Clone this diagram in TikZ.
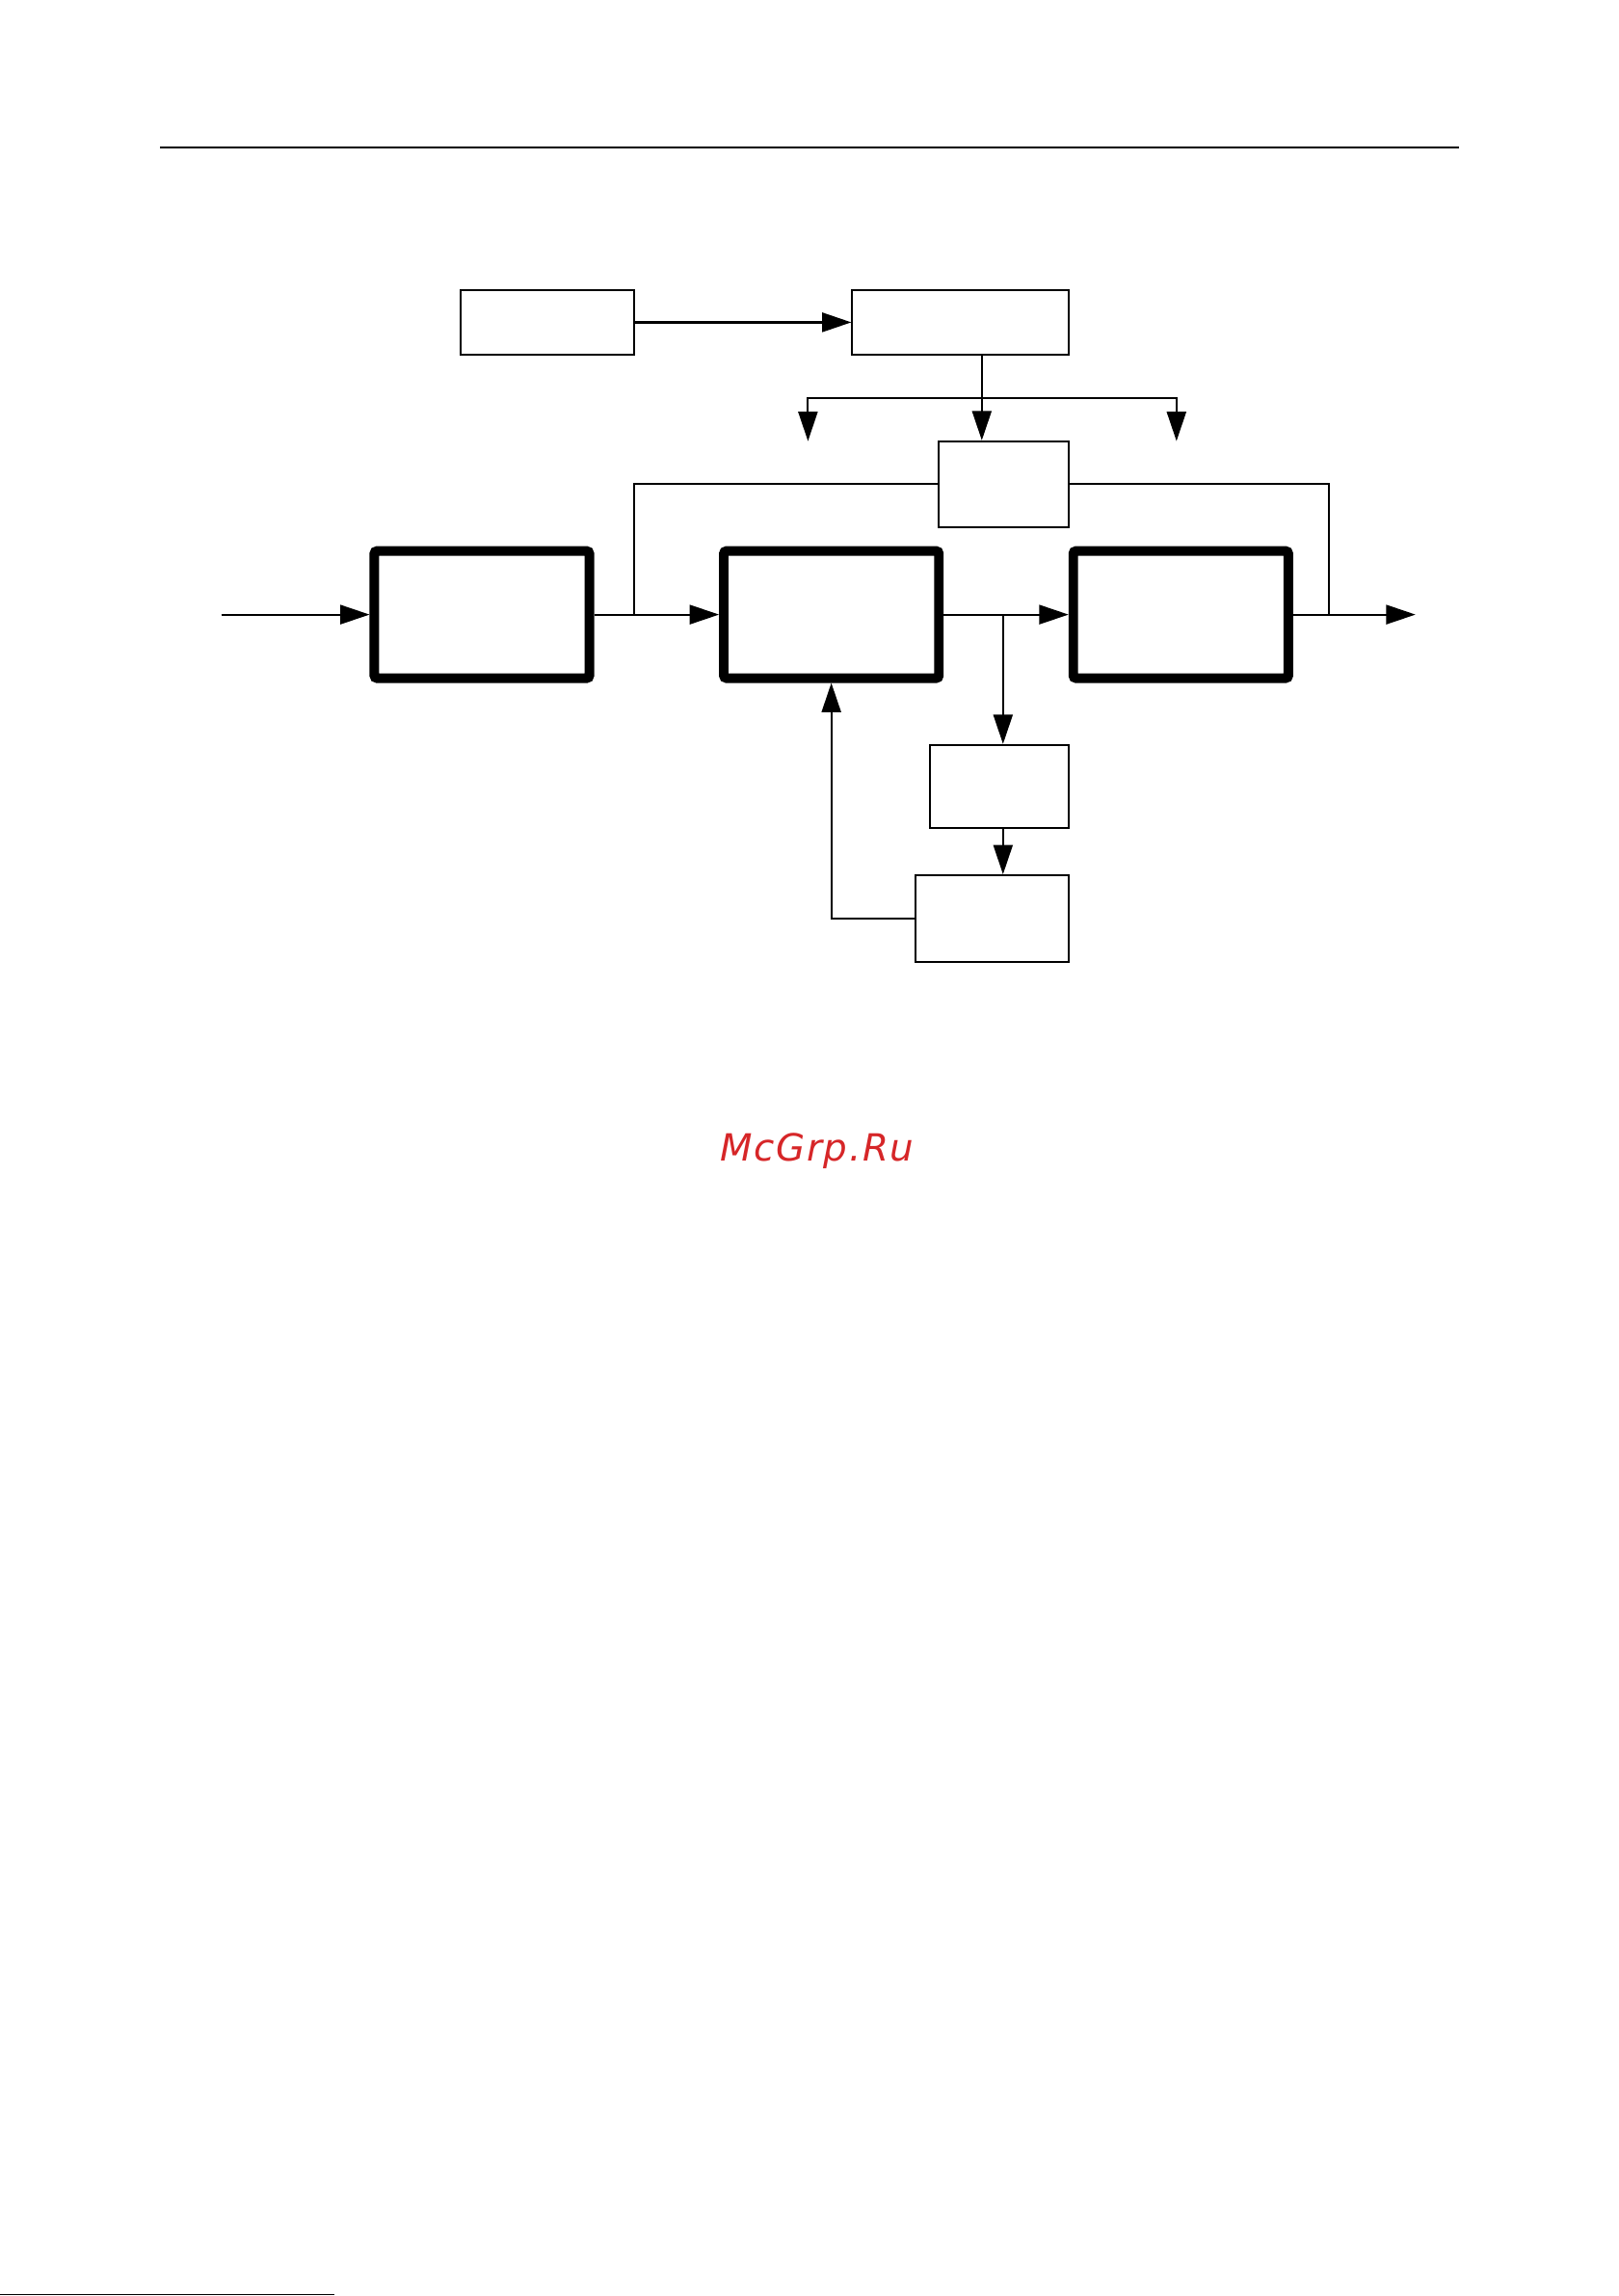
\documentclass[tikz,border=0pt]{standalone}
\usepackage{fontspec}
\usepackage{tikz}
\usetikzlibrary{arrows.meta,positioning,calc}
\newfontfamily\wmfont{DejaVu Sans}[LetterSpace=4]
\definecolor{wmred}{RGB}{214,38,40}

\begin{document}
\begin{tikzpicture}[x=1mm, y=-1mm, >={Triangle[length=3.8mm, width=2.5mm]},
    thinbox/.style={draw, line width=0.7pt, inner sep=0pt},
    thickbox/.style={draw, line width=3.5pt, rounded corners=1pt, inner sep=0pt,
      minimum width=27.9mm, minimum height=16.5mm},
    wire/.style={line width=0.7pt}]
  \useasboundingbox (0,0) rectangle (210,297.75);

  % rule at the head of the page
  \draw[line width=0.9pt] (20.75,19.1) coordinate (ruleL) -- (189.25,19.1) coordinate (ruleR);

  % upper blocks
  \node[thinbox, minimum width=22.6mm, minimum height=8.4mm] (src) at (71.0,41.8) {};
  \node[thinbox, minimum width=28.1mm, minimum height=8.4mm] (ctrl) at (124.6,41.8) {};
  \node[thinbox, minimum width=16.9mm, minimum height=11.15mm] (sens) at (130.2,62.8) {};

  % main chain
  \node[thickbox] (stA) at (62.5,79.7) {};
  \node[thickbox, right=16.2mm of stA] (stB) {};
  \node[thickbox, right=16.2mm of stB] (stC) {};

  % lower blocks
  \node[thinbox, minimum width=18.0mm, minimum height=10.8mm] (meas) at (129.6,102.0) {};
  \node[thinbox, minimum width=19.8mm, minimum height=11.2mm] (corr) at (128.7,119.1) {};

  % free ends and taps
  \coordinate (feedIn) at (28.7,79.7);
  \coordinate (feedOut) at (183.6,79.7);
  \coordinate (split) at (127.35,51.6);
  \coordinate (splitL) at (104.8,57.2);
  \coordinate (splitR) at (152.6,57.2);
  \coordinate (tapL) at (82.3,79.7);
  \coordinate (tapR) at (172.4,79.7);
  \coordinate (tapM) at (130.1,79.7);

  \draw[->, line width=0.85pt] (src) -- (ctrl);
  \draw[wire] (split |- ctrl.south) -- (split);
  \draw[wire, ->] (split) -- (split |- sens.north);
  \draw[wire, ->] (split) -| (splitL);
  \draw[wire, ->] (split) -| (splitR);
  \draw[wire] (sens.west) -| (tapL);
  \draw[wire] (sens.east) -| (tapR);

  \draw[wire, ->] (feedIn) -- (stA);
  \draw[wire, ->] (stA) -- (stB);
  \draw[wire, ->] (stB) -- (stC);
  \draw[wire, ->] (stC) -- (feedOut);

  \draw[wire, ->] (tapM) -- (tapM |- meas.north);
  \draw[wire, ->] (meas.south -| tapM) -- (corr.north -| tapM);
  \draw[wire, ->] (corr.west) -| (stB.south);

  % watermark
  \node[anchor=base, inner sep=0pt, text=wmred, font=\wmfont\itshape\fontsize{13.8}{16}\selectfont] (mark) at (106.0,150.5) {McGrp.Ru};

  % trace at the foot of the page
  \draw[line width=0.3pt] (0,297.6) coordinate (footL) -- (43.4,297.6) coordinate (footR);
\end{tikzpicture}
\end{document}
